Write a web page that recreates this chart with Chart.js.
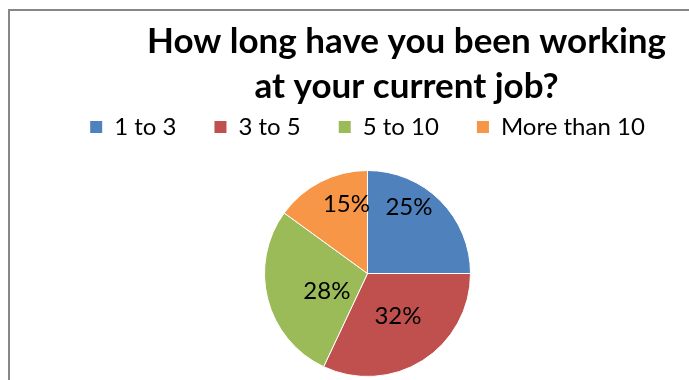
<!DOCTYPE html>
<html>
<head>
<meta charset="utf-8">
<script src="https://cdn.jsdelivr.net/npm/chart.js@4.4.1/dist/chart.umd.min.js"></script>
<style>
  html, body { margin: 0; padding: 0; background: #fff; overflow: hidden; width: 689px; height: 380px; }
  /* chart frame runs past the right and bottom edges of the page */
  #frame { position: absolute; left: 8px; top: 9px; width: 730px; height: 420px;
           border-left: 2px solid #878787; border-top: 2px solid #878787; }
  #chart { display: block; }
</style>
</head>
<body>
<div id="frame"><canvas id="chart" width="715" height="387"></canvas></div>
<script>
const titleLines = ['How long have you been working', 'at your current job?'];
const categories = ['1 to 3', '3 to 5', '5 to 10', 'More than 10'];
const shares = [25, 32, 28, 15];
const sliceColors = ['#4F81BD', '#C0504D', '#9BBB59', '#F79646'];

// where each percentage sits in its slice: share of the radius, and a nudge off the mid-angle in degrees
const labelRadius = [0.76, 0.51, 0.43, 0.70];
const labelNudge = [-13, -3, -9, 10];

const percentLabels = {
  id: 'percentLabels',
  afterDatasetsDraw(chart) {
    const ctx = chart.ctx;
    const meta = chart.getDatasetMeta(0);
    const total = shares.reduce((a, b) => a + b, 0);
    ctx.save();
    ctx.font = '24px Lato';
    ctx.fillStyle = '#000';
    ctx.textAlign = 'center';
    ctx.textBaseline = 'middle';
    meta.data.forEach((arc, i) => {
      const { x, y, startAngle, endAngle, outerRadius } =
        arc.getProps(['x', 'y', 'startAngle', 'endAngle', 'outerRadius'], true);
      const a = (startAngle + endAngle) / 2 + labelNudge[i] * Math.PI / 180;
      const r = outerRadius * labelRadius[i];
      ctx.fillText(Math.round(shares[i] / total * 100) + '%', x + Math.cos(a) * r, y + Math.sin(a) * r);
    });
    ctx.restore();
  }
};

// the title sits a little right of the legend and pie
const titleOffset = {
  id: 'titleOffset',
  afterLayout(chart) {
    const t = chart.titleBlock;
    if (t) { t.left += 39; t.right += 39; }
  }
};

new Chart(document.getElementById('chart'), {
  type: 'pie',
  data: {
    labels: categories,
    datasets: [{
      data: shares,
      backgroundColor: sliceColors,
      borderColor: '#fff',
      borderWidth: 1,
      radius: 103
    }]
  },
  options: {
    responsive: false,
    animation: false,
    plugins: {
      title: {
        display: true,
        text: titleLines,
        color: '#000',
        font: { family: 'Lato', size: 35, weight: 'bold', lineHeight: '45px' },
        padding: { top: 8, bottom: -32 }
      },
      legend: {
        position: 'top',
        labels: {
          color: '#000',
          font: { family: 'Lato', size: 24 },
          boxWidth: 12,
          boxHeight: 12,
          padding: 38,
          // solid swatches, without the white slice outline
          generateLabels(chart) {
            return Chart.overrides.pie.plugins.legend.labels.generateLabels(chart)
              .map(item => ({ ...item, lineWidth: 0 }));
          }
        }
      },
      tooltip: { enabled: false }
    }
  },
  plugins: [percentLabels, titleOffset]
});
</script>
</body>
</html>
